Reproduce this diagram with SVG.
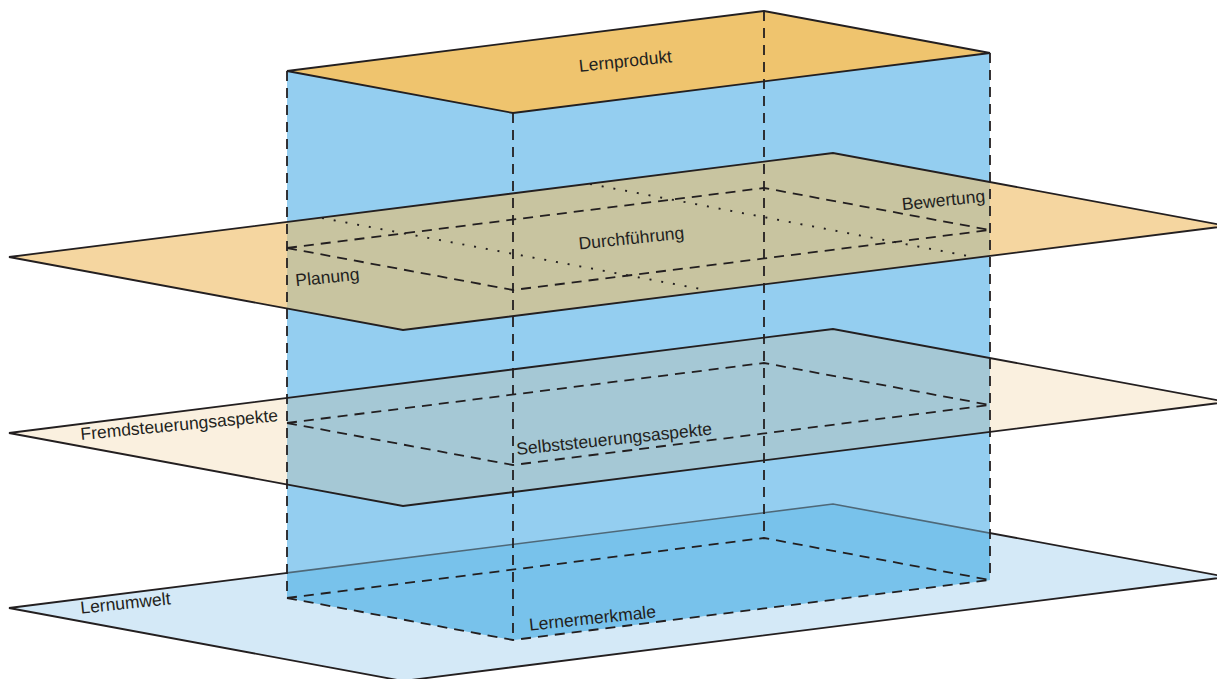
<svg xmlns="http://www.w3.org/2000/svg" width="1217" height="679" viewBox="0 0 1217 679">
<style>
.edge{fill:none;stroke:#231F20;stroke-width:1.8;stroke-linejoin:miter}
.soft{fill:none;stroke:#4E6878;stroke-width:1.6}
.dash{fill:none;stroke:#231F20;stroke-width:1.8;stroke-dasharray:10 7}
.dot{fill:none;stroke:#231F20;stroke-width:1.9;stroke-dasharray:2 9.9}
.lbl{font-family:"Liberation Sans",Arial,Helvetica,sans-serif;font-size:17.5px;fill:#231F20}
</style>
<defs>
<clipPath id="boxclip"><polygon points="287,71 513,113 990,53 990,580 513,640 287,598"/></clipPath>
</defs>
<rect width="1217" height="679" fill="#FFFFFF"/>

<g id="plane-lernumwelt">
<polygon points="9,608 833,504 1227,577 403,681" fill="#D4E9F7"/>
<polygon class="edge" points="9,608 833,504 1227,577 403,681"/>
</g>

<g id="box-lernermerkmale">
<polygon points="287,71 513,113 990,53 990,580 513,640 287,598" fill="#94CEF0"/>
<g clip-path="url(#boxclip)">
<polygon points="9,608 833,504 1227,577 403,681" fill="#78C2EB"/>
<polyline class="soft" points="9,608 833,504 1227,577"/>
</g>
</g>

<g id="plane-steuerung">
<polygon points="9,433 833,329 1227,402 403,506" fill="#FAF0DF"/>
<polygon points="9,433 833,329 1227,402 403,506" fill="#A5C8D5" clip-path="url(#boxclip)"/>
<polygon class="edge" points="9,433 833,329 1227,402 403,506"/>
</g>

<g id="plane-prozess">
<polygon points="9,257 833,153 1227,226 403,330" fill="#F5D6A0"/>
<polygon points="9,257 833,153 1227,226 403,330" fill="#C8C4A0" clip-path="url(#boxclip)"/>
<polygon class="edge" points="9,257 833,153 1227,226 403,330"/>
</g>

<g id="top-lernprodukt">
<polygon points="287,71 764,11 990,53 513,113" fill="#EFC46E"/>
<polygon class="edge" points="287,71 764,11 990,53 513,113"/>
</g>

<g id="connectors">
<line class="dash" x1="287" y1="71" x2="287" y2="598"/>
<line class="dash" x1="513" y1="113" x2="513" y2="640"/>
<line class="dash" x1="764" y1="11" x2="764" y2="538"/>
<line class="dash" x1="990" y1="53" x2="990" y2="580"/>
<polyline class="dash" points="287,248 764,188 990,230"/>
<polyline class="dash" points="287,248 513,290 990,230"/>
<polyline class="dash" points="287,423 764,363 990,405"/>
<polyline class="dash" points="287,423 513,465 990,405"/>
<polyline class="dash" points="287,598 764,538 990,580"/>
<polyline class="dash" points="287,598 513,640 990,580"/>
<line class="dot" x1="322" y1="218" x2="706" y2="290"/>
<line class="dot" x1="590" y1="184" x2="968" y2="256"/>
</g>

<g id="labels">
<text class="lbl" x="626" y="67" text-anchor="middle" transform="rotate(-6 626 67)">Lernprodukt</text>
<text class="lbl" x="632" y="244" text-anchor="middle" transform="rotate(-6 632 244)">Durchführung</text>
<text class="lbl" x="944" y="206" text-anchor="middle" transform="rotate(-6 944 206)">Bewertung</text>
<text class="lbl" x="328" y="283" text-anchor="middle" transform="rotate(-6 328 283)">Planung</text>
<text class="lbl" x="81" y="440" transform="rotate(-5.5 81 440)">Fremdsteuerungsaspekte</text>
<text class="lbl" x="517" y="455" transform="rotate(-6 517 455)">Selbststeuerungsaspekte</text>
<text class="lbl" x="126" y="609" text-anchor="middle" transform="rotate(-6 126 609)">Lernumwelt</text>
<text class="lbl" x="593" y="624" text-anchor="middle" transform="rotate(-6 593 624)">Lernermerkmale</text>
</g>
</svg>
